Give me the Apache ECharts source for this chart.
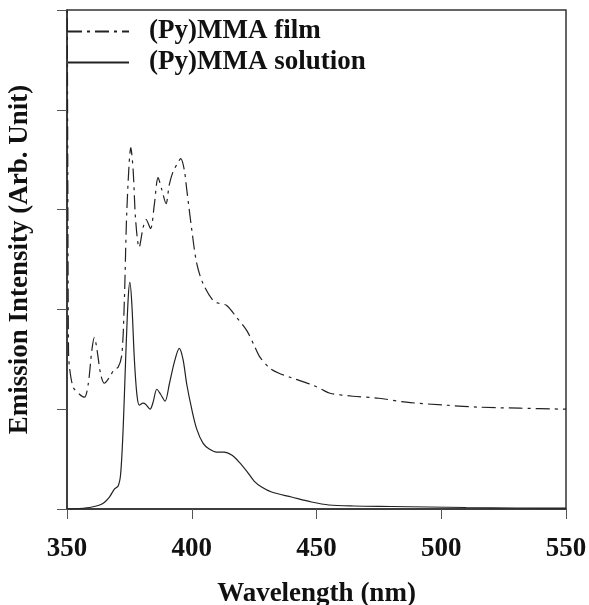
<!DOCTYPE html>
<html>
<head>
<meta charset="utf-8">
<script src="https://cdn.jsdelivr.net/npm/echarts@6/dist/echarts.min.js"></script>
<style>
    html, body { margin: 0; padding: 0; background: #fff; }
    #main { width: 589px; height: 605px; }
</style>
</head>
<body>
<div id="main"></div>
<script type="text/javascript">
    // wavelength (nm) and intensity (arb. unit, 1 unit = 1 tick)
    var filmWl = [350, 350.3, 350.6, 351, 352.5, 355, 357, 358.5, 360, 361, 362, 363.5, 365, 367, 369, 370.5, 372, 373, 374, 375.6,
        376.5, 377.5, 378.9, 380.5, 381.7, 383.5, 385, 386.5, 388, 389.7, 391, 392.5, 394, 395.6, 397, 398, 400, 402, 404.5,
        408.5, 411, 414, 418, 422, 425, 427.4, 431.4, 435, 439.4, 448.6, 452, 455.4, 464.6, 475, 486, 502, 515.5, 531.5, 550];
    var filmI = [6, 3.5, 1.6, 1.42, 1.22, 1.15, 1.12, 1.25, 1.6, 1.72, 1.6, 1.35, 1.26, 1.32, 1.4, 1.42, 1.55, 2.1, 3.0, 3.62,
        3.4, 2.9, 2.62, 2.82, 2.9, 2.81, 3.05, 3.32, 3.2, 3.06, 3.25, 3.38, 3.45, 3.51, 3.4, 3.2, 2.8, 2.46, 2.26,
        2.09, 2.06, 2.04, 1.92, 1.79, 1.64, 1.52, 1.41, 1.36, 1.32, 1.24, 1.2, 1.16, 1.13, 1.11, 1.07, 1.04, 1.02, 1.01, 1.0];

    var solWl = [350, 355, 360, 364, 367, 369, 370.5, 371.5, 372.5, 373.5, 374.5, 375.2, 376, 377, 378, 379, 380.5, 381.5,
        383.3, 384.5, 386, 387.5, 389.3, 391, 393, 395, 396.5, 398, 400, 402, 404.5, 407, 410, 413, 416, 419, 422, 425,
        428, 432, 440, 448, 455, 465, 480, 495, 510, 530, 550];
    var solI = [0, 0.005, 0.02, 0.05, 0.12, 0.2, 0.23, 0.35, 0.8, 1.5, 2.1, 2.27, 2.05, 1.5, 1.15, 1.04, 1.06, 1.05,
        1.0, 1.07, 1.2, 1.15, 1.08, 1.25, 1.47, 1.61, 1.5, 1.25, 1.0, 0.8, 0.66, 0.6, 0.57, 0.57, 0.54, 0.47, 0.38, 0.28,
        0.22, 0.17, 0.12, 0.07, 0.04, 0.03, 0.025, 0.02, 0.015, 0.01, 0.008];

    var xTicks = [350, 400, 450, 500, 550];

    function pairs(xs, ys) {
        var out = [];
        for (var i = 0; i < xs.length; i++) out.push([xs[i], ys[i]]);
        return out;
    }

    var font = '"Liberation Serif", "Times New Roman", serif';
    var myChart = echarts.init(document.getElementById('main'));

    var option = {
        animation: false,
        grid: {
            left: 67, right: 23, top: 10, bottom: 96,
            outerBoundsMode: 'none', containLabel: false,
            show: true, borderColor: '#333', borderWidth: 1.5
        },
        legend: {
            left: 62, top: 13,
            orient: 'vertical',
            itemWidth: 61, itemHeight: 14, itemGap: 4,
            data: ['(Py)MMA film', '(Py)MMA solution'],
            itemStyle: { opacity: 0 },
            textStyle: { fontFamily: font, fontWeight: 'bold', fontSize: 27, color: '#111', padding: [0, 0, 0, 15] }
        },
        xAxis: {
            type: 'value', min: xTicks[0], max: xTicks[xTicks.length - 1], interval: 50,
            name: 'Wavelength (nm)', nameLocation: 'middle', nameGap: 72,
            nameTextStyle: { fontFamily: font, fontWeight: 'bold', fontSize: 27, color: '#111' },
            axisLine: { lineStyle: { color: '#333', width: 1.5 } },
            axisTick: { inside: false, length: 10, lineStyle: { color: '#555' } },
            axisLabel: { margin: 27, fontFamily: font, fontWeight: 'bold', fontSize: 27, color: '#111' },
            splitLine: { show: false }
        },
        yAxis: {
            type: 'value', min: 0, max: 5, interval: 1,
            name: 'Emission Intensity (Arb. Unit)', nameLocation: 'middle', nameGap: 33,
            nameTextStyle: { fontFamily: font, fontWeight: 'bold', fontSize: 27, color: '#111' },
            axisLine: { lineStyle: { color: '#333', width: 1.5 } },
            axisTick: { inside: false, length: 10, lineStyle: { color: '#555' } },
            axisLabel: { show: false },
            splitLine: { show: false }
        },
        series: [
            {
                name: '(Py)MMA film', type: 'line', data: pairs(filmWl, filmI),
                smooth: 0.3, symbol: 'none', clip: true,
                lineStyle: { color: '#222', width: 1.2, type: [14, 5, 3, 5] },
                itemStyle: { color: '#222' }
            },
            {
                name: '(Py)MMA solution', type: 'line', data: pairs(solWl, solI),
                smooth: 0.3, symbol: 'none', clip: true,
                lineStyle: { color: '#222', width: 1.2 },
                itemStyle: { color: '#222' }
            }
        ]
    };

    myChart.setOption(option);
</script>
</body>
</html>
